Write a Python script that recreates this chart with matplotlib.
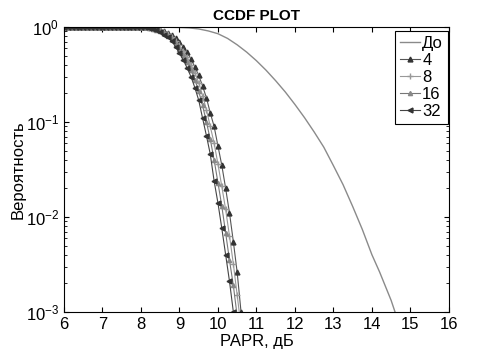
import numpy as np
import matplotlib
matplotlib.use('Agg')
import matplotlib.pyplot as plt

plt.rcParams['font.family'] = ['Liberation Sans', 'DejaVu Sans']

# original signal (no PTS)
x_orig = [6.0, 7.0, 8.0, 8.5, 9.0, 9.25, 9.5, 9.75, 10.0, 10.25, 10.5, 10.75, 11.0, 11.25,
          11.5, 11.75, 12.0, 12.25, 12.5, 12.75, 13.0, 13.25, 13.5, 13.75, 14.0, 14.2,
          14.3, 14.5, 14.6]
p_orig = [1.0, 1.0, 1.0, 0.998, 0.99, 0.98, 0.955, 0.91, 0.851, 0.759, 0.65, 0.543, 0.442, 0.351,
          0.272, 0.207, 0.153, 0.111, 0.0785, 0.0543, 0.0347, 0.0219, 0.0129, 0.0074, 0.004, 0.00263,
          0.00209, 0.00132, 0.001]

# x grid for the marked curves, 6.0 .. 10.6 dB in 0.1 steps
x_pts = np.round(np.arange(6.0, 10.65, 0.1), 1)

p_4 = [1.0, 1.0, 1.0, 1.0, 1.0, 1.0, 1.0, 1.0, 1.0, 1.0,
       1.0, 1.0, 1.0, 1.0, 1.0, 1.0, 1.0, 1.0, 1.0, 1.0,
       0.998, 0.995, 0.99, 0.98, 0.965, 0.94, 0.91, 0.87, 0.82, 0.76,
       0.69, 0.62, 0.54, 0.46, 0.38, 0.31, 0.24, 0.18, 0.125, 0.09,
       0.056, 0.035, 0.02, 0.011, 0.0055, 0.0026, 0.001]
p_8 = [1.0, 1.0, 1.0, 1.0, 1.0, 1.0, 1.0, 1.0, 1.0, 1.0,
       1.0, 1.0, 1.0, 1.0, 1.0, 1.0, 1.0, 1.0, 1.0, 1.0,
       0.997, 0.994, 0.987, 0.973, 0.95, 0.92, 0.885, 0.84, 0.785, 0.72,
       0.64, 0.56, 0.48, 0.40, 0.33, 0.26, 0.19, 0.135, 0.09, 0.06,
       0.036, 0.021, 0.012, 0.0063, 0.0032, 0.0015, 0.0007]
p_16 = [1.0, 1.0, 1.0, 1.0, 1.0, 1.0, 1.0, 1.0, 1.0, 1.0,
        1.0, 1.0, 1.0, 1.0, 1.0, 1.0, 1.0, 1.0, 1.0, 1.0,
        0.996, 0.992, 0.984, 0.965, 0.935, 0.90, 0.86, 0.81, 0.75, 0.67,
        0.59, 0.51, 0.43, 0.35, 0.28, 0.21, 0.15, 0.10, 0.066, 0.040,
        0.023, 0.013, 0.0068, 0.0035, 0.0019, 0.0009, 0.0004]
p_32 = [1.0, 1.0, 1.0, 1.0, 1.0, 1.0, 1.0, 1.0, 1.0, 1.0,
        1.0, 1.0, 1.0, 1.0, 1.0, 1.0, 1.0, 1.0, 1.0, 1.0,
        0.995, 0.99, 0.98, 0.955, 0.92, 0.88, 0.83, 0.78, 0.71, 0.62,
        0.53, 0.45, 0.37, 0.30, 0.23, 0.17, 0.11, 0.072, 0.046, 0.024,
        0.014, 0.0076, 0.004, 0.0021, 0.001, 0.0005, 0.0002]

fig = plt.figure(figsize=(4.96, 3.56), dpi=100)
ax = fig.add_axes([0.129, 0.124, 0.776, 0.80])

ax.semilogy(x_orig, p_orig, color='#8a8a8a', lw=1.0, label='До')
ax.semilogy(x_pts, p_4, color='#555555', lw=0.8, marker='^', ms=3.5,
            mfc='#333333', mec='#333333', label='4')
ax.semilogy(x_pts, p_8, color='#999999', lw=0.8, marker='+', ms=4,
            mec='#999999', label='8')
ax.semilogy(x_pts, p_16, color='#777777', lw=0.8, marker='^', ms=3,
            mfc='#888888', mec='#888888', label='16')
ax.semilogy(x_pts, p_32, color='#444444', lw=0.8, marker='<', ms=3.5,
            mfc='#333333', mec='#333333', label='32')

ax.set_xlim(6, 16)
ax.set_ylim(1e-3, 1)
ax.set_xticks(range(6, 17))
ax.tick_params(which='both', direction='in', top=True, right=True, labelsize=12)
ax.set_title('CCDF PLOT', fontsize=11, fontweight='bold', pad=5)
ax.set_xlabel('PAPR, дБ', fontsize=12, labelpad=2)
ax.set_ylabel('Вероятность', fontsize=12)
ax.yaxis.set_label_coords(-0.10, 0.5)

leg = ax.legend(loc='upper right', bbox_to_anchor=(0.998, 0.985), fontsize=12,
                handlelength=1.2, fancybox=False, edgecolor='black', framealpha=1,
                borderaxespad=0, borderpad=0.3, labelspacing=0.12, handletextpad=0.15)
leg.get_frame().set_linewidth(0.8)

fig.savefig('out.png', dpi=100)
